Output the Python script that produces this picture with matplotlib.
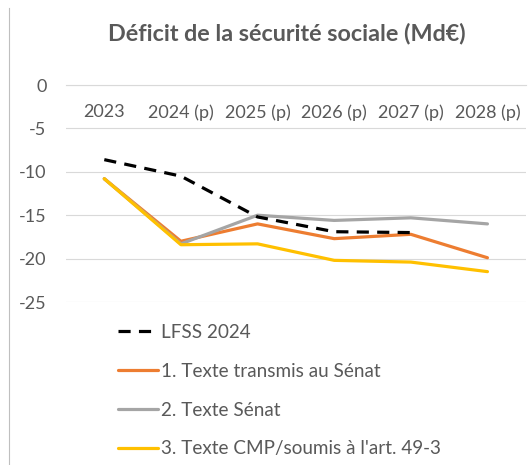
import matplotlib
matplotlib.use("Agg")
import matplotlib.pyplot as plt
from matplotlib.lines import Line2D

plt.rcParams['font.family'] = ['Lato', 'DejaVu Sans']
plt.rcParams['axes.unicode_minus'] = False

years = ['2023', '2024 (p)', '2025 (p)', '2026 (p)', '2027 (p)', '2028 (p)']
lfss_2024 = [-8.6, -10.5, -15.2, -16.9, -17.0]
texte_transmis = [-10.8, -18.0, -16.0, -17.7, -17.2, -19.9]
texte_senat = [-10.8, -18.3, -15.0, -15.6, -15.3, -16.0]
texte_cmp = [-10.8, -18.4, -18.3, -20.2, -20.4, -21.5]

txt = '#595959'

fig = plt.figure(figsize=(5.3, 4.65), dpi=100)
ax = fig.add_axes([0.1245, 0.3505, 0.8675, 0.4667])

x = range(len(years))
ax.plot(x, texte_transmis, c='#ED7D31', lw=2.3, solid_capstyle='round', label='1. Texte transmis au Sénat')
ax.plot(x, texte_senat, c='#A5A5A5', lw=2.3, solid_capstyle='round', label='2. Texte Sénat')
ax.plot(x, texte_cmp, c='#FFC000', lw=2.3, solid_capstyle='round', label="3. Texte CMP/soumis à l'art. 49-3")
ax.plot(range(len(lfss_2024)), lfss_2024, c='black', lw=2.3, dashes=(3.8, 2.6), label='LFSS 2024')

ax.set_xlim(-0.5, len(years) - 0.5)
ax.set_ylim(-25, 0)
ax.set_yticks([0, -5, -10, -15, -20, -25])
ax.set_xticks(list(x))
ax.set_xticklabels(years)
ax.grid(axis='y', c='#D9D9D9', lw=0.8)
ax.set_axisbelow(True)
for s in ['top', 'right', 'left']:
    ax.spines[s].set_visible(False)
ax.spines['bottom'].set_position(('data', 0))
ax.spines['bottom'].set_color('#D9D9D9')
ax.spines['bottom'].set_linewidth(0.8)
ax.tick_params(axis='x', length=0, pad=14, labelsize=13, labelcolor=txt)
ax.tick_params(axis='y', length=0, pad=14, labelsize=13, labelcolor=txt)

fig.text(0.541, 0.927, 'Déficit de la sécurité sociale (Md€)', ha='center', va='center',
         fontsize=16.8, fontweight='bold', color=txt)

# border remnant on the left
fig.add_artist(Line2D([0.0175, 0.0175], [0.0, 0.983], color='#BFBFBF', lw=0.8))

h, l = ax.get_legend_handles_labels()
order = [3, 0, 1, 2]
leg = fig.legend([h[i] for i in order], [l[i] for i in order], loc='upper left',
                 bbox_to_anchor=(0.2226, 0.303), frameon=False, fontsize=13.6,
                 labelcolor=txt, handlelength=2.1, handletextpad=0.2, labelspacing=1.15,
                 borderaxespad=0, borderpad=0)

fig.savefig('out.png', dpi=100)
